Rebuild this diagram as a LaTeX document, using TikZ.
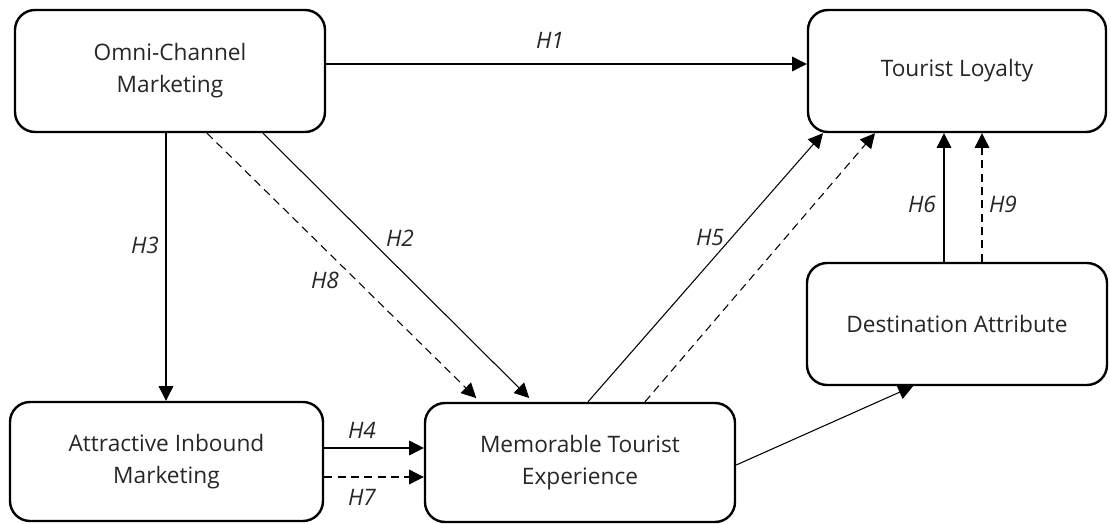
\documentclass[tikz,border=0pt]{standalone}
\usepackage{fontspec}
\setmainfont{Open Sans}
\usepackage{tikz}
\usetikzlibrary{arrows.meta,calc}

\begin{document}
\begin{tikzpicture}[x=0.75pt, y=-0.75pt,
  cons/.style={draw, line width=1.8pt, rounded corners=15pt, align=center,
    font=\fontsize{17}{24}\selectfont, text=black!85},
  hyp/.style={font=\fontsize{17}{20}\selectfont\itshape, text=black!85},
  arr/.style={-{Triangle[length=11pt,width=11pt]}, line width=0.8pt},
  darr/.style={arr, dash pattern=on 6pt off 4pt},
]
  \useasboundingbox (0,0) rectangle (1110,524);
  % --- constructs ---
  \node[cons, minimum width=232.5pt, minimum height=91.5pt] (omni) at (170,71) {Omni-Channel\\Marketing};
  \node[cons, minimum width=223.5pt, minimum height=91.5pt] (loyal) at (957,71) {Tourist Loyalty};
  \node[cons, minimum width=225pt, minimum height=91.5pt] (dest) at (957,324) {Destination Attribute};
  \node[cons, minimum width=234.75pt, minimum height=89.25pt] (attr) at (166.5,461.5) {Attractive Inbound\\Marketing};
  \node[cons, minimum width=232.5pt, minimum height=89.25pt] (mte) at (580,462.5) {Memorable Tourist\\Experience};
  % --- paths ---
  \draw[arr] ($(omni.east)+(0,-7)$) -- ($(loyal.west)+(0,-7)$);
  \draw[arr] ($(omni.south)+(-4,0)$) -- ($(attr.north)+(-0.5,0)$);
  \draw[darr, shorten >=4pt] ($(omni.south)+(37,0)$) -- ($(mte.north)+(-100,0)$);
  \draw[arr, shorten >=4pt] ($(omni.south)+(93,0)$) -- ($(mte.north)+(-47,0)$);
  \draw[arr] ($(attr.east)+(0,-13.5)$) -- ($(mte.west)+(0,-14.5)$);
  \draw[darr] ($(attr.east)+(0,15.5)$) -- ($(mte.west)+(0,14.5)$);
  \draw[arr] ($(mte.north)+(8,0)$) -- ($(loyal.south)+(-134,0)$);
  \draw[darr] ($(mte.north)+(65,0)$) -- ($(loyal.south)+(-82,0)$);
  \draw[arr] ($(mte.east)+(0,2.5)$) -- ($(dest.south)+(-44,0)$);
  \draw[arr] ($(dest.north)+(-13,0)$) -- ($(loyal.south)+(-13,0)$);
  \draw[darr] ($(dest.north)+(25,0)$) -- ($(loyal.south)+(25,0)$);
  % --- hypotheses ---
  \node[hyp] (h1) at (550,40) {H1};
  \node[hyp] (h2) at (400,238) {H2};
  \node[hyp] (h3) at (145,245) {H3};
  \node[hyp] (h4) at (362,430) {H4};
  \node[hyp] (h5) at (710,238) {H5};
  \node[hyp] (h6) at (922,204) {H6};
  \node[hyp] (h7) at (362,497) {H7};
  \node[hyp] (h8) at (325,280) {H8};
  \node[hyp] (h9) at (1003,204) {H9};
\end{tikzpicture}
\end{document}
